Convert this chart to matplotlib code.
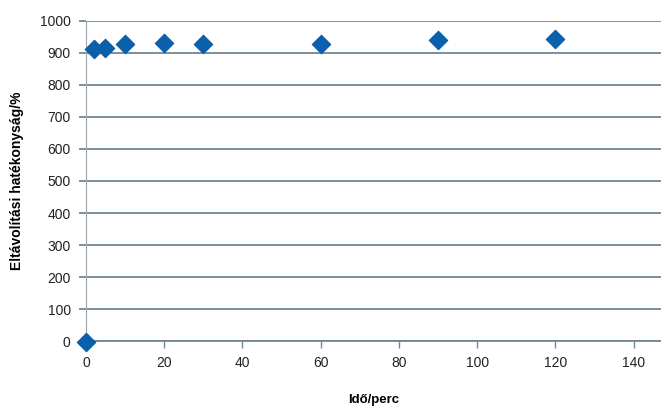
import matplotlib.pyplot as plt

# Measured points (time in minutes, removal efficiency in %)
ido = [0, 2, 5, 10, 20, 30, 60, 90, 120]
hatekonysag = [-2, 913, 915, 928, 931, 928, 928, 940, 943]

x_ticks = [0, 20, 40, 60, 80, 100, 120, 140]
y_ticks = [0, 100, 200, 300, 400, 500, 600, 700, 800, 900, 1000]

GRID = "#6f8794"
MARKER = "#0a60aa"

plt.rcParams["font.family"] = ["Liberation Sans", "DejaVu Sans"]

fig = plt.figure(figsize=(6.61, 4.09), dpi=100)
ax = fig.add_axes([0.130, 0.166, 0.870, 0.783])

ax.scatter(ido, hatekonysag, marker="D", s=85, color=MARKER, zorder=3, clip_on=False)

ax.set_xlim(0, 147)
ax.set_ylim(0, 1000)
ax.set_xticks(x_ticks)
ax.set_yticks(y_ticks)

ax.grid(axis="y", color=GRID, linewidth=1.3)
ax.set_axisbelow(True)
for side in ["top", "right"]:
    ax.spines[side].set_visible(False)
ax.spines["left"].set_color("#9aa6ab")
ax.spines["bottom"].set_color(GRID)
ax.spines["bottom"].set_linewidth(1.3)

ax.tick_params(axis="y", length=5, width=1.3, color=GRID, labelsize=10, pad=6, labelcolor="#222222")
ax.tick_params(axis="x", length=5, width=1, color=GRID, labelsize=10, pad=6, labelcolor="#222222")

ax.set_xlabel("Idő/perc", fontsize=9.5, fontweight="bold", labelpad=17)
ax.set_ylabel("Eltávolítási hatékonyság/%", fontsize=10, fontweight="bold", labelpad=11)

fig.savefig("out.png", dpi=100)
